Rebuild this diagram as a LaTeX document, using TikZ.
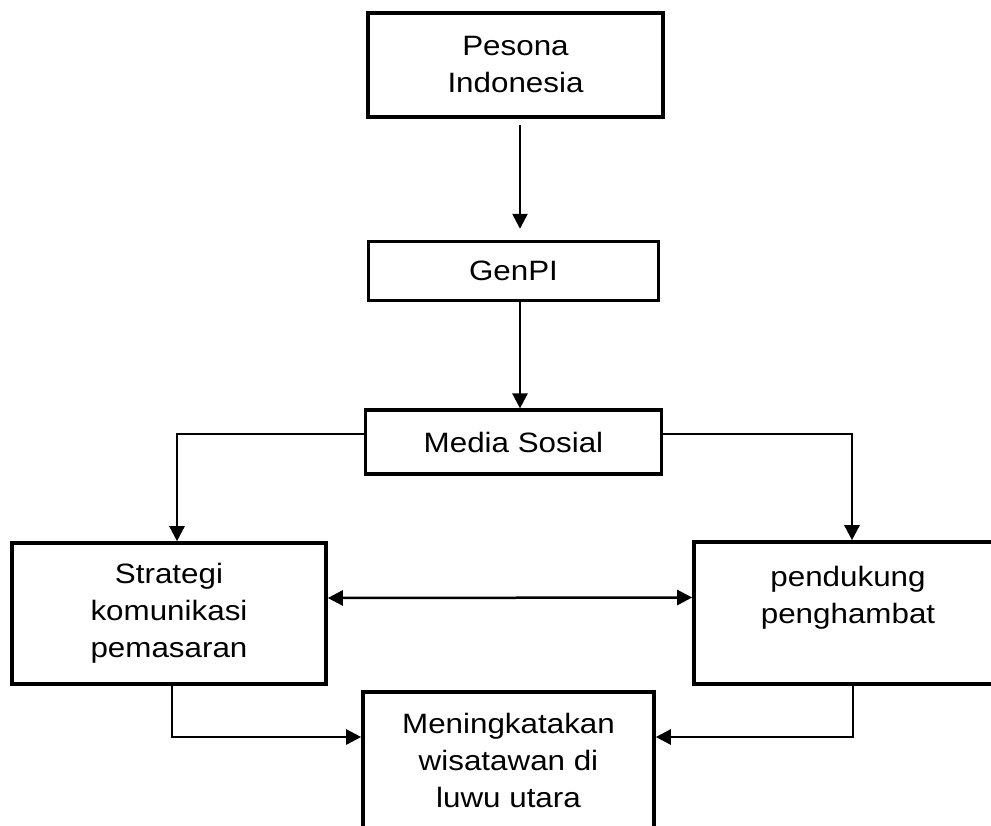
\documentclass[tikz,border=0pt]{standalone}
\usepackage{fontspec}
\setmainfont{Liberation Sans}[FakeStretch=1.12]
\usetikzlibrary{positioning}
\usetikzlibrary{arrows.meta}
\tikzstyle{box} = [rectangle,draw=black,line width=1.8pt,align=center,inner sep=2pt, font=\fontsize{14}{18.5}\selectfont]
\tikzstyle{conn} = [line width=1.25pt,-{Triangle[length=7.5pt,width=7.5pt]}]

\begin{document}
\begin{tikzpicture}[x=0.5pt,y=-0.5pt]
\useasboundingbox (0,0) rectangle (991,825);
\clip (0,0) rectangle (991,825);

% Define nodes
\node[box, minimum width=147.5pt, minimum height=52pt]        (pesona) at (515.5,65) {Pesona\\Indonesia};
\node[box, below = 60.5pt of pesona, xshift=-1pt, minimum width=145pt, minimum height=29.5pt] (genpi) {GenPI};
\node[box, below = 53pt of genpi, minimum width=148pt, minimum height=32pt] (media) {Media Sosial};

\node[box, minimum width=157pt, minimum height=70.5pt]        (strategi) at (169,613.5) {Strategi\\komunikasi\\pemasaran};
\node[box, minimum width=154pt, minimum height=71pt]          (pendukung) at (848,613) {pendukung\\penghambat\\\mbox{}};
\node[box, minimum width=145.5pt, minimum height=68pt]        (naik) at (508.5,760) {Meningkatakan\\wisatawan di\\luwu utara};

% Edges
\draw[conn, shorten <=3pt, shorten >=5.5pt] ([xshift=2.25pt]pesona.south) -- ([xshift=2.25pt]pesona.south |- genpi.north);
\draw[conn] ([xshift=3.25pt]genpi.south) -- ([xshift=3.25pt]genpi.south |- media.north);
\draw[conn] ([yshift=4pt]media.west) -| ([xshift=4pt]strategi.north);
\draw[conn] ([yshift=4pt]media.east) -| ([xshift=2pt]pendukung.north);
\draw[conn, {Triangle[length=7.5pt,width=7.5pt]}-{Triangle[length=7.5pt,width=7.5pt]}] ([yshift=7.75pt]strategi.east) -- ([yshift=7.75pt]pendukung.west);
\draw[conn] ([xshift=1.5pt]strategi.south) |- ([yshift=11.5pt]naik.west);
\draw[conn] ([xshift=2.5pt]pendukung.south) |- ([yshift=11.5pt]naik.east);
\end{tikzpicture}
\end{document}
